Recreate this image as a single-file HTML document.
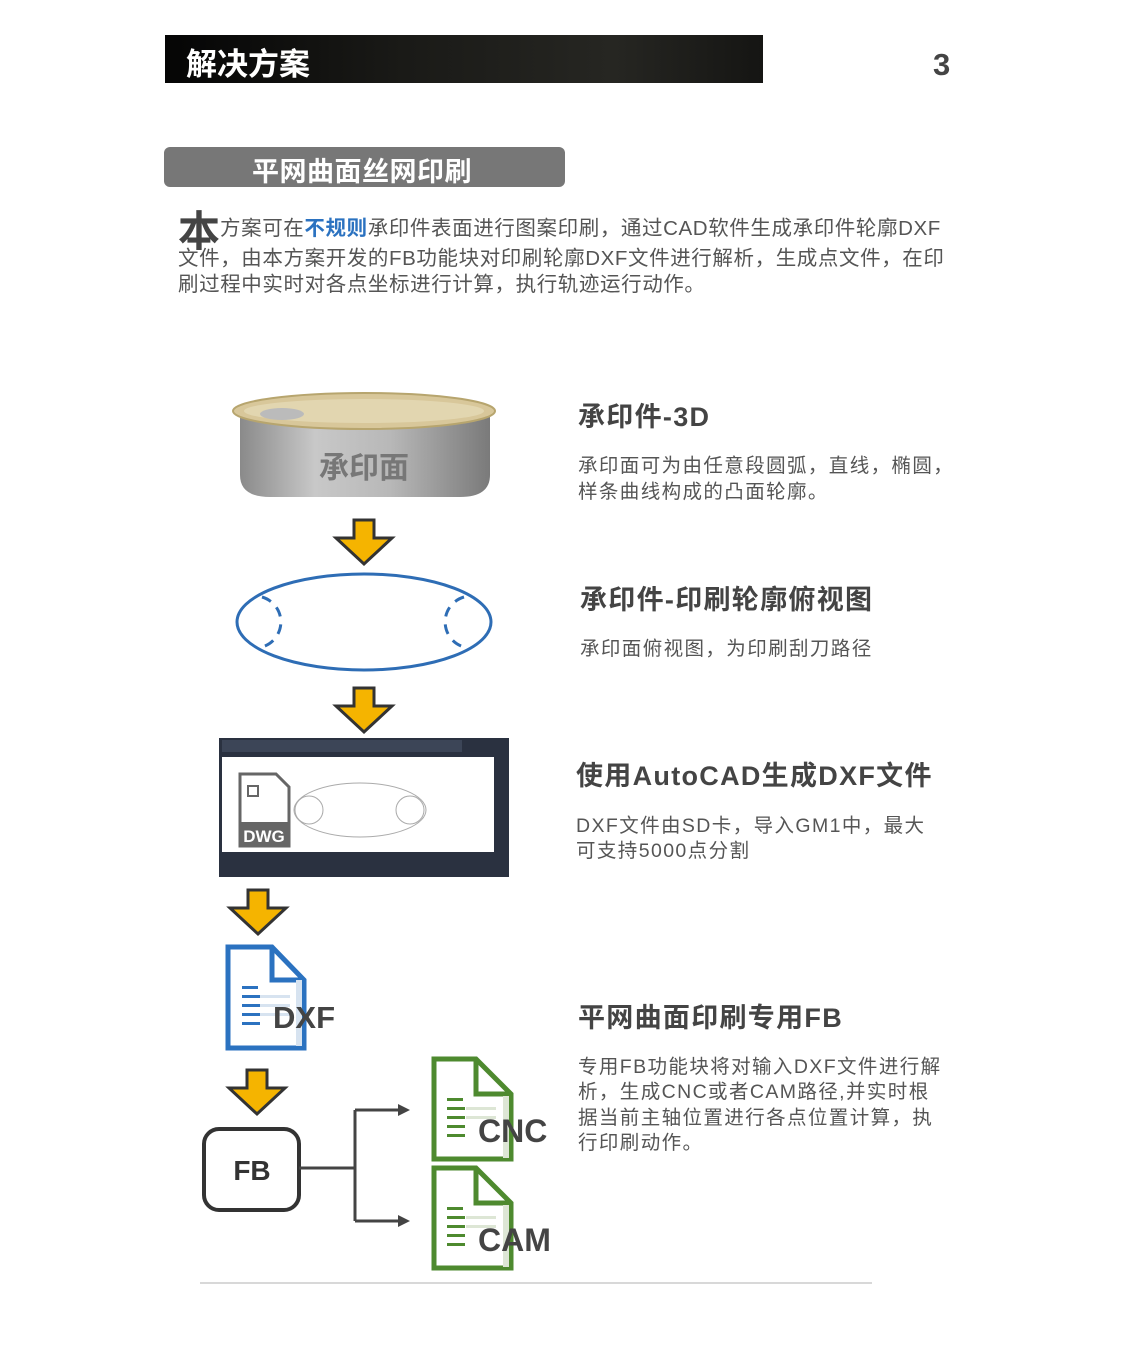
<!DOCTYPE html>
<html><head><meta charset="utf-8"><style>
body{margin:0;width:1134px;height:1361px;background:#fff;position:relative;overflow:hidden;font-family:"Liberation Sans","Noto Sans CJK SC",sans-serif;}
.a{position:absolute;white-space:nowrap}
.t{font-size:27px;font-weight:bold;color:#444;letter-spacing:1.3px}
.b{font-size:19.5px;color:#555;line-height:25px;letter-spacing:1.4px}
.p{font-size:20.5px;color:#555;line-height:25px;letter-spacing:0.6px}
</style></head><body>
<div class="a" style="left:165px;top:35px;width:598px;height:48px;background:linear-gradient(90deg,#050505,#1a1a17 40%,#262622 75%,#151513);"></div>
<div class="a" style="left:186px;top:39px;font-size:31px;font-weight:bold;color:#fff">解决方案</div>
<div class="a" style="left:933px;top:47px;font-size:31px;font-weight:bold;color:#444">3</div>
<div class="a" style="left:164px;top:147px;width:401px;height:40px;background:#777;border-radius:6px"></div>
<div class="a" style="left:252px;top:150px;font-size:27px;font-weight:bold;color:#fff;letter-spacing:0.5px">平网曲面丝网印刷</div>
<div class="a" style="left:178px;top:198px;font-size:42px;font-weight:bold;color:#444">本</div>
<div class="a p" style="left:220px;top:216px">方案可在<b style="color:#2b72c0">不规则</b>承印件表面进行图案印刷，通过CAD软件生成承印件轮廓DXF</div>
<div class="a p" style="left:178px;top:246px">文件，由本方案开发的FB功能块对印刷轮廓DXF文件进行解析，生成点文件，在印</div>
<div class="a p" style="left:178px;top:272px">刷过程中实时对各点坐标进行计算，执行轨迹运行动作。</div>

<div class="a t" style="left:578px;top:395px">承印件-3D</div>
<div class="a b" style="left:578px;top:454px">承印面可为由任意段圆弧，直线，椭圆，</div>
<div class="a b" style="left:578px;top:480px">样条曲线构成的凸面轮廓。</div>
<div class="a t" style="left:580px;top:578px">承印件-印刷轮廓俯视图</div>
<div class="a b" style="left:580px;top:637px">承印面俯视图，为印刷刮刀路径</div>
<div class="a t" style="left:576px;top:754px">使用AutoCAD生成DXF文件</div>
<div class="a b" style="left:576px;top:814px">DXF文件由SD卡，导入GM1中，最大</div>
<div class="a b" style="left:576px;top:839px">可支持5000点分割</div>
<div class="a t" style="left:578px;top:996px">平网曲面印刷专用FB</div>
<div class="a b" style="left:578px;top:1055px">专用FB功能块将对输入DXF文件进行解</div>
<div class="a b" style="left:578px;top:1080px">析，生成CNC或者CAM路径,并实时根</div>
<div class="a b" style="left:578px;top:1106px">据当前主轴位置进行各点位置计算，执</div>
<div class="a b" style="left:578px;top:1131px">行印刷动作。</div>

<svg class="a" style="left:0;top:0" width="1134" height="1361">
<defs>
<linearGradient id="can" x1="0" x2="1"><stop offset="0" stop-color="#8a8a8a"/><stop offset=".3" stop-color="#c8c8c8"/><stop offset=".6" stop-color="#b8b8b8"/><stop offset="1" stop-color="#7a7a7a"/></linearGradient>
<g id="arr"><path d="M-10,0H10V18H28L0,44L-28,18H-10Z" fill="#f5b400" stroke="#333" stroke-width="3" stroke-linejoin="miter"/></g>
</defs>
<path d="M240,410 H490 V475 Q490,497 460,497 H270 Q240,497 240,475Z" fill="url(#can)"/>
<ellipse cx="364" cy="411" rx="131" ry="18" fill="#d8c79a" stroke="#b7a56e" stroke-width="2"/>
<ellipse cx="364" cy="411" rx="120" ry="12" fill="#e2d6b0"/>
<ellipse cx="282" cy="414" rx="22" ry="6" fill="#bbb"/>
<text x="364" y="478" text-anchor="middle" font-size="30" font-weight="bold" fill="#777" font-family="Liberation Sans,Noto Sans CJK SC,sans-serif">承印面</text>
<use href="#arr" x="364" y="520"/>
<ellipse cx="364" cy="622" rx="127" ry="48" fill="none" stroke="#2e6db5" stroke-width="3"/>
<path d="M258,597 A26,26 0 0 1 258,647" fill="none" stroke="#2e6db5" stroke-width="3" stroke-dasharray="10,8" transform="translate(4,0)"/>
<path d="M468,597 A26,26 0 0 0 468,647" fill="none" stroke="#2e6db5" stroke-width="3" stroke-dasharray="10,8" transform="translate(-4,0)"/>
<use href="#arr" x="364" y="688"/>
<rect x="219" y="738" width="290" height="139" fill="#2a3140"/>
<rect x="222" y="757" width="272" height="95" fill="#fff"/>
<rect x="222" y="740" width="240" height="12" fill="#4a5468" opacity=".6"/>
<ellipse cx="360" cy="810" rx="66" ry="27" fill="none" stroke="#aaa"/>
<circle cx="309" cy="810" r="14" fill="none" stroke="#aaa"/>
<circle cx="410" cy="810" r="14" fill="none" stroke="#aaa"/>
<path d="M240,774 H276 L289,787 V846 H240Z" fill="#fff" stroke="#666" stroke-width="3"/>
<rect x="240" y="822" width="49" height="24" fill="#666"/>
<text x="264" y="842" text-anchor="middle" font-size="17" font-weight="bold" fill="#fff" font-family="Liberation Sans,sans-serif">DWG</text>
<rect x="248" y="786" width="10" height="10" fill="none" stroke="#666" stroke-width="2"/>
<use href="#arr" x="258" y="890"/>
<path d="M228,947 H272 L304,980 V1048 H228Z" fill="#fff" stroke="#2b72c0" stroke-width="5"/>
<path d="M272,947 V980 H304" fill="none" stroke="#2b72c0" stroke-width="5"/>
<g fill="#2b72c0"><rect x="242" y="986" width="16" height="3"/><rect x="242" y="995" width="18" height="3"/><rect x="242" y="1004" width="18" height="3"/><rect x="242" y="1013" width="18" height="3"/><rect x="242" y="1022" width="18" height="3"/></g>
<g fill="#d7e3f0"><rect x="260" y="995" width="30" height="3"/><rect x="260" y="1004" width="30" height="3"/><rect x="260" y="1013" width="30" height="3"/><rect x="296" y="980" width="6" height="66"/></g>
<text x="273" y="1028" font-size="31" font-weight="bold" fill="#444" font-family="Liberation Sans,sans-serif">DXF</text>
<use href="#arr" x="257" y="1070"/>
<rect x="204" y="1129" width="95" height="81" rx="15" fill="#fff" stroke="#333" stroke-width="4"/>
<text x="252" y="1180" text-anchor="middle" font-size="28" font-weight="bold" fill="#333" font-family="Liberation Sans,sans-serif">FB</text>
<path d="M299,1168 H355 M355,1110 V1221 M355,1110 H400 M355,1221 H400" fill="none" stroke="#444" stroke-width="3"/>
<path d="M398,1104 L410,1110 L398,1116Z M398,1215 L410,1221 L398,1227Z" fill="#444"/>
<g id="gdoc">
<path d="M434,1059 H476 L511,1094 V1159 H434Z" fill="#fff" stroke="#4e8a2f" stroke-width="5"/>
<path d="M476,1059 V1094 H511" fill="none" stroke="#4e8a2f" stroke-width="5"/>
<g fill="#4e8a2f"><rect x="447" y="1098" width="16" height="3"/><rect x="447" y="1107" width="18" height="3"/><rect x="447" y="1116" width="18" height="3"/><rect x="447" y="1125" width="18" height="3"/><rect x="447" y="1134" width="18" height="3"/></g>
<g fill="#dde6d5"><rect x="466" y="1107" width="30" height="3"/><rect x="466" y="1116" width="30" height="3"/><rect x="503" y="1096" width="6" height="62"/></g>
</g>
<use href="#gdoc" y="109"/>
<text x="478" y="1142" font-size="32" font-weight="bold" fill="#444" font-family="Liberation Sans,sans-serif">CNC</text>
<text x="478" y="1251" font-size="32" font-weight="bold" fill="#444" font-family="Liberation Sans,sans-serif">CAM</text>
<line x1="200" y1="1283" x2="872" y2="1283" stroke="#ccc" stroke-width="1.5"/>
</svg>
</body></html>
